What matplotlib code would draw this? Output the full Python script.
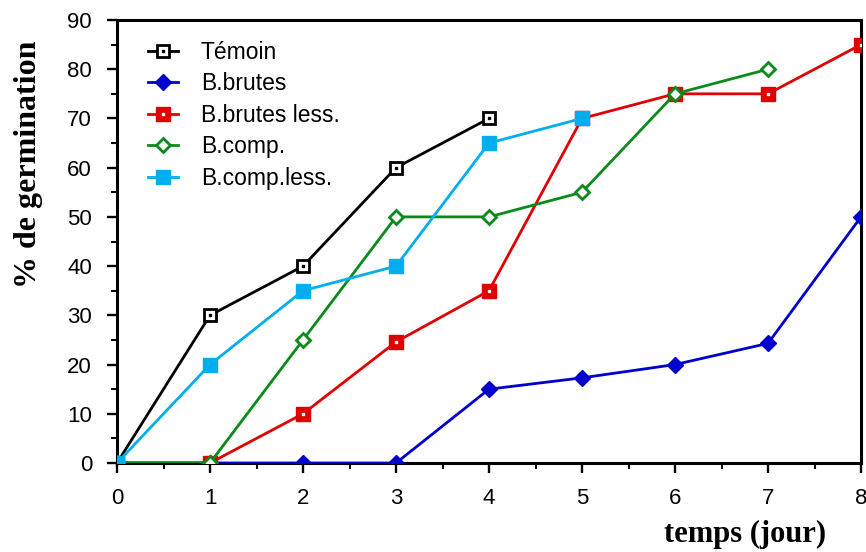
import matplotlib
matplotlib.use("Agg")
import matplotlib.pyplot as plt
from matplotlib.legend_handler import HandlerTuple
from matplotlib.ticker import MultipleLocator

# ---------------------------------------------------------------------------
# Data
# ---------------------------------------------------------------------------
days = [0, 1, 2, 3, 4, 5, 6, 7, 8]

temoin = [0, 30, 40, 60, 70]
b_brutes = [0, 0, 0, 0, 15, 17.3, 20, 24.3, 50]
b_brutes_less = [0, 0, 10, 24.6, 35, 70, 75, 75, 85]
b_comp = [0, 0, 25, 50, 50, 55, 75, 80]
b_comp_less = [0, 20, 35, 40, 65, 70]

x_ticks = [0, 1, 2, 3, 4, 5, 6, 7, 8]
y_ticks = [0, 10, 20, 30, 40, 50, 60, 70, 80, 90]

plt.rcParams["font.family"] = ["Liberation Sans", "DejaVu Sans"]

fig = plt.figure(figsize=(8.66, 5.52), dpi=100)
ax = fig.add_axes([117 / 866, 1 - 463 / 552, (861 - 117) / 866, (463 - 20) / 552])

LW = 2.0
handles = []
labels = []

# Témoin: open black square with a centre dot
l1, = ax.plot(days[:len(temoin)], temoin, color="black", lw=LW, marker="s",
              ms=8.5, mfc="white", mec="black", mew=2, zorder=3)
d1, = ax.plot(days[:len(temoin)], temoin, ls="none", marker="s", ms=1.6,
              color="black", zorder=3.1)
handles.append((l1, d1)); labels.append("Témoin")

# B.brutes: filled blue diamond
l2, = ax.plot(days[:len(b_brutes)], b_brutes, color="#0000CC", lw=LW,
              marker="D", ms=8, mfc="#0000CC", mec="#0000CC", zorder=4)
handles.append(l2); labels.append("B.brutes")

# B.brutes less.: filled red square with white centre dot
l3, = ax.plot(days[:len(b_brutes_less)], b_brutes_less, color="#E00000", lw=LW,
              marker="s", ms=9.5, mfc="#E00000", mec="#E00000", zorder=5)
d3, = ax.plot(days[:len(b_brutes_less)], b_brutes_less, ls="none", marker="s",
              ms=2.0, color="white", zorder=5.1)
handles.append((l3, d3)); labels.append("B.brutes less.")

# B.comp.: open green diamond
l4, = ax.plot(days[:len(b_comp)], b_comp, color="#0A8A1A", lw=LW, marker="D",
              ms=7.5, mfc="white", mec="#0A8A1A", mew=2, zorder=6)
handles.append(l4); labels.append("B.comp.")

# B.comp.less.: filled cyan square
l5, = ax.plot(days[:len(b_comp_less)], b_comp_less, color="#00AEEF", lw=LW,
              marker="s", ms=10, mfc="#00AEEF", mec="#00AEEF", zorder=7)
handles.append(l5); labels.append("B.comp.less.")

ax.set_xlim(0, 8)
ax.set_ylim(0, 90)
ax.set_xticks(x_ticks)
ax.set_yticks(y_ticks)
ax.xaxis.set_minor_locator(MultipleLocator(0.5))
ax.yaxis.set_minor_locator(MultipleLocator(5))
ax.tick_params(which="major", direction="out", length=7, width=1.7,
               labelsize=16, pad=11)
ax.tick_params(which="minor", direction="out", length=4, width=1.5)
for spine in ax.spines.values():
    spine.set_linewidth(2.2)
for lab in ax.get_xticklabels() + ax.get_yticklabels():
    lab.set_clip_on(False)

leg = fig.legend(handles, labels, loc="upper left",
                 bbox_to_anchor=(148 / 866, 1 - 41 / 552),
                 frameon=False, fontsize=16.5, handlelength=1.3,
                 handletextpad=1.0, labelspacing=0.37, borderpad=0,
                 borderaxespad=0,
                 handler_map={tuple: HandlerTuple(ndivide=1, pad=0)})

fig.text(29 / 866, 1 - 164 / 552, "% de germination", rotation=90,
         ha="center", va="center", fontsize=23, fontweight="bold",
         family="Liberation Serif")
fig.text(826 / 866, 1 - 542 / 552, "temps (jour)", ha="right", va="baseline",
         fontsize=22, fontweight="bold", family="Liberation Serif")

fig.savefig("out.png", dpi=100)
